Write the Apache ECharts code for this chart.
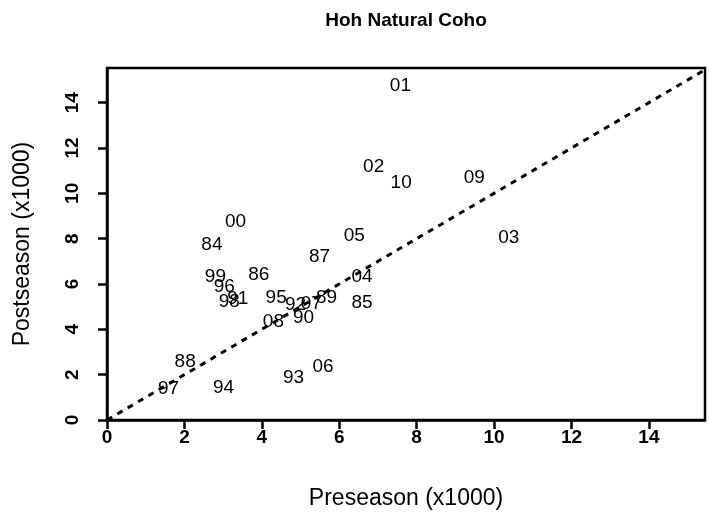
<!DOCTYPE html>
<html>
<head>
<meta charset="utf-8">
<script src="https://cdn.jsdelivr.net/npm/echarts@6/dist/echarts.min.js"></script>
<style>
html,body{margin:0;padding:0;background:#fff;}
#c{width:709px;height:517px;}
</style>
</head>
<body>
<div id="c"></div>
<script>
// Year labels with preseason (x) and postseason (y) values, thousands
const years = ['84','85','86','87','88','89','90','91','92','93','94','95','96','97','98','99','00','01','02','03','04','05','06','07','08','09','10'];
const preseason = [2.71,6.59,3.92,5.49,2.02,5.67,5.08,3.38,4.87,4.82,3.01,4.37,3.03,1.59,3.16,2.80,3.32,7.58,6.89,10.38,6.59,6.39,5.58,5.28,4.30,9.49,7.60];
const postseason = [7.72,5.18,6.40,7.18,2.57,5.41,4.49,5.35,5.08,1.88,1.44,5.38,5.87,1.40,5.22,6.34,8.75,14.74,11.18,8.06,6.32,8.12,2.33,5.12,4.32,10.67,10.47];
const tickValues = [0,2,4,6,8,10,12,14];
const diagonal = [0, 16];

const chart = echarts.init(document.getElementById('c'), null, {renderer:'canvas'});
const FONT = 'Liberation Sans, Arial, sans-serif';
const pts = years.map((y,i)=>[preseason[i], postseason[i], y]);
const diag = diagonal.map(v=>[v,v]);

chart.setOption({
  animation:false,
  backgroundColor:'#fff',
  graphic:[{
    type:'text', x:406, y:21,
    style:{text:'Hoh Natural Coho', fontFamily:FONT, fontWeight:'bold', fontSize:19, fill:'#000', textAlign:'center', textVerticalAlign:'middle'}
  }],
  grid:{left:107, top:68, right:4, bottom:97, show:true, borderColor:'#000', borderWidth:2.5, backgroundColor:'transparent'},
  xAxis:{
    type:'value', min:0, max:15.45,
    name:'Preseason (x1000)', nameLocation:'middle', nameGap:67,
    nameTextStyle:{fontFamily:FONT, fontSize:23, color:'#000'},
    axisLine:{show:true, lineStyle:{color:'#000', width:2.5}},
    axisTick:{show:true, inside:false, length:9, lineStyle:{color:'#000', width:2.5}, customValues:tickValues},
    axisLabel:{fontFamily:FONT, fontSize:19, fontWeight:'bold', color:'#000', margin:8, customValues:tickValues},
    splitLine:{show:false}
  },
  yAxis:{
    type:'value', min:0, max:15.53,
    name:'Postseason (x1000)', nameLocation:'middle', nameGap:73, nameRotate:90,
    nameTextStyle:{fontFamily:FONT, fontSize:23, color:'#000'},
    axisLine:{show:true, lineStyle:{color:'#000', width:2.5}},
    axisTick:{show:true, inside:false, length:9, lineStyle:{color:'#000', width:2.5}, customValues:tickValues},
    axisLabel:{fontFamily:FONT, fontSize:19, fontWeight:'bold', color:'#000', margin:25, rotate:90, customValues:tickValues},
    splitLine:{show:false}
  },
  series:[
    {
      type:'line', data:diag, showSymbol:false, clip:true, silent:true,
      lineStyle:{color:'#000', width:3, type:[6,6]}
    },
    {
      type:'scatter', data:pts, symbolSize:0, silent:true,
      itemStyle:{opacity:1, color:'#000'},
      label:{show:true, position:'inside', formatter:p=>p.data[2], fontFamily:FONT, fontSize:19, color:'#000', opacity:1, textBorderWidth:0, align:'center', verticalAlign:'middle'},
      labelLayout:{hideOverlap:false}
    }
  ]
});
</script>
</body>
</html>
